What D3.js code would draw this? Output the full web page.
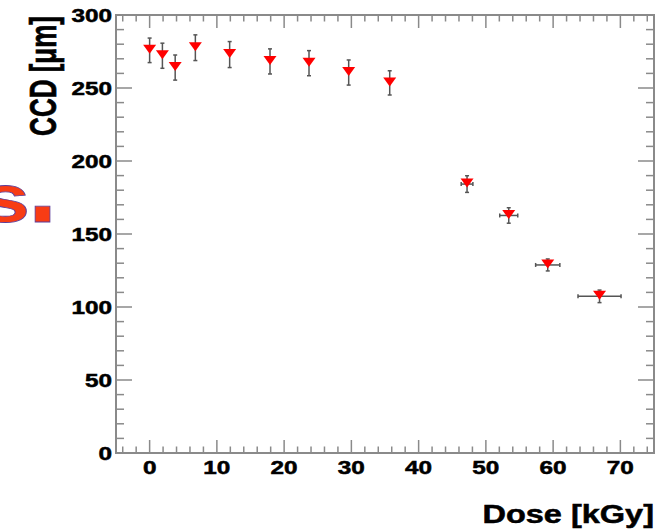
<!DOCTYPE html>
<html>
<head>
<meta charset="utf-8">
<script src="https://cdn.jsdelivr.net/npm/d3@7"></script>
<style>
  body { margin: 0; background: #fff; }
  text { font-family: "Liberation Sans", Arial, sans-serif; font-weight: bold; }
  .lbl { stroke: #000; stroke-width: 0.5; }
</style>
</head>
<body>
<div id="chart"></div>
<script>
// values
const dose    = [0, 1.9, 3.8, 6.8, 11.9, 17.9, 23.7, 29.6, 35.7, 47.2, 53.4, 59.2, 66.9];
const doseErr = [0, 0, 0, 0, 0, 0, 0, 0, 0, 0.87, 1.34, 1.8, 3.2];
const ccd     = [275.8, 272.1, 264.0, 277.6, 272.9, 268.2, 267.0, 260.6, 253.5, 184.2, 162.7, 128.8, 107.3];
const ccdErr  = [8.4, 8.6, 8.6, 8.8, 8.9, 8.6, 8.6, 8.6, 8.3, 5.7, 5.3, 4.1, 4.3];

const xTicks = [0, 10, 20, 30, 40, 50, 60, 70];
const yTicks = [0, 50, 100, 150, 200, 250, 300];

var width = 661;
var height = 530;
var margin = {top: 15, right: 7, bottom: 77, left: 116};
var stretch = 1.35; // the source picture is squashed wide

var axisColor = "#8a8a8a";

var svg = d3.select("#chart")
    .append("svg")
    .attr("width", width)
    .attr("height", height);

var x = d3.scaleLinear()
    .domain([-5, 75])
    .range([margin.left, width - margin.right]);

var y = d3.scaleLinear()
    .domain([0, 300])
    .range([height - margin.bottom, margin.top]);

var x0 = x.range()[0], x1 = x.range()[1];
var y0 = y.range()[0], y1 = y.range()[1];

// minor ticks
var xMinor = d3.range(-4, 75, 2).filter(v => v % 10 !== 0);
var yMinor = d3.range(10, 300, 10).filter(v => v % 50 !== 0);

var ticks = svg.append("g")
    .attr("stroke", axisColor)
    .attr("stroke-width", 1.5);

function xTickLines(vals, len) {
    vals.forEach(v => {
        ticks.append("line").attr("x1", x(v)).attr("x2", x(v)).attr("y1", y0).attr("y2", y0 - len);
        ticks.append("line").attr("x1", x(v)).attr("x2", x(v)).attr("y1", y1).attr("y2", y1 + len);
    });
}
function yTickLines(vals, len) {
    vals.forEach(v => {
        ticks.append("line").attr("y1", y(v)).attr("y2", y(v)).attr("x1", x0).attr("x2", x0 + len);
        ticks.append("line").attr("y1", y(v)).attr("y2", y(v)).attr("x1", x1).attr("x2", x1 - len);
    });
}
xTickLines(xTicks, 13);
xTickLines(xMinor, 6.5);
yTickLines(yTicks.slice(1, -1), 16);
yTickLines(yMinor, 8);

// frame
svg.append("rect")
    .attr("x", x0)
    .attr("y", y1)
    .attr("width", x1 - x0)
    .attr("height", y0 - y1)
    .attr("fill", "none")
    .attr("stroke", axisColor)
    .attr("stroke-width", 2);

// tick labels
svg.append("g").selectAll("text")
    .data(xTicks)
    .enter()
    .append("text")
    .attr("class", "lbl")
    .attr("transform", d => `translate(${x(d)},${y0 + 21}) scale(${stretch},1)`)
    .attr("text-anchor", "middle")
    .attr("font-size", 18)
    .text(d => d);

svg.append("g").selectAll("text")
    .data(yTicks)
    .enter()
    .append("text")
    .attr("class", "lbl")
    .attr("transform", d => `translate(${x0 - 4},${y(d) + 6.5}) scale(${stretch},1)`)
    .attr("text-anchor", "end")
    .attr("font-size", 18)
    .text(d => d);

// axis titles
svg.append("text")
    .attr("class", "lbl")
    .attr("transform", `translate(${x1},${height - 7}) scale(1.3,1)`)
    .attr("text-anchor", "end")
    .attr("font-size", 25)
    .text("Dose [kGy]");

svg.append("text")
    .attr("class", "lbl")
    .attr("transform", `translate(56,${y1 + 1}) scale(1.43,1) rotate(-90)`)
    .attr("text-anchor", "end")
    .attr("font-size", 26)
    .text("CCD [\u03bcm]");

// leftover of the slide title on the left
svg.append("text")
    .attr("transform", "translate(30,222) scale(1.3,1)")
    .attr("text-anchor", "end")
    .attr("font-size", 68)
    .attr("fill", "#f83c14")
    .attr("stroke", "#5a3c9a")
    .attr("stroke-width", 0.8)
    .text("s");
svg.append("text")
    .attr("transform", "translate(28,222)")
    .attr("font-size", 105)
    .attr("fill", "#f83c14")
    .attr("stroke", "#5a3c9a")
    .attr("stroke-width", 0.8)
    .text(".");

// data
var points = dose.map((d, i) => ({x: d, xe: doseErr[i], y: ccd[i], ye: ccdErr[i]}));

var errs = svg.append("g")
    .attr("stroke", "#555")
    .attr("stroke-width", 1.5);

points.forEach(p => {
    errs.append("line")
        .attr("x1", x(p.x)).attr("x2", x(p.x))
        .attr("y1", y(p.y - p.ye)).attr("y2", y(p.y + p.ye));
    errs.append("line")
        .attr("x1", x(p.x) - 2).attr("x2", x(p.x) + 2)
        .attr("y1", y(p.y + p.ye)).attr("y2", y(p.y + p.ye));
    errs.append("line")
        .attr("x1", x(p.x) - 2).attr("x2", x(p.x) + 2)
        .attr("y1", y(p.y - p.ye)).attr("y2", y(p.y - p.ye));
    if (p.xe > 0) {
        errs.append("line")
            .attr("x1", x(p.x - p.xe)).attr("x2", x(p.x + p.xe))
            .attr("y1", y(p.y)).attr("y2", y(p.y));
        [p.x - p.xe, p.x + p.xe].forEach(v => {
            errs.append("line")
                .attr("x1", x(v)).attr("x2", x(v))
                .attr("y1", y(p.y) - 2).attr("y2", y(p.y) + 2);
        });
    }
});

// inverted triangle markers
svg.append("g").selectAll("path")
    .data(points)
    .enter()
    .append("path")
    .attr("transform", d => `translate(${x(d.x)},${y(d.y)})`)
    .attr("d", "M-6.5,-5.5L6.5,-5.5L0,3.5Z")
    .attr("fill", "#ff0000");
</script>
</body>
</html>
